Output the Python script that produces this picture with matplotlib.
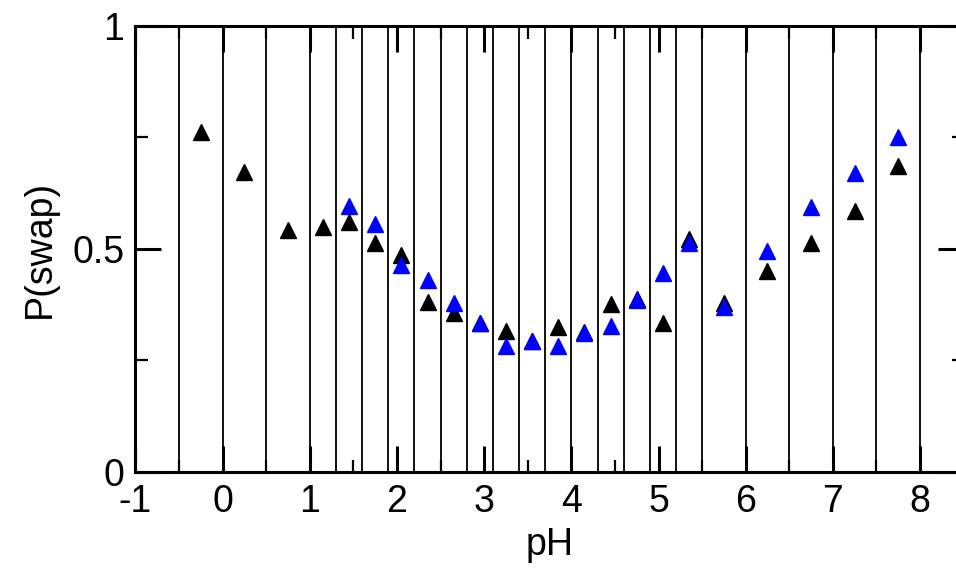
#!/usr/bin/env python3
from __future__ import annotations

import matplotlib

matplotlib.use("Agg")
import matplotlib.pyplot as plt
from matplotlib.ticker import FixedLocator

# pH window boundaries (vertical lines)
window_edges = [-0.5, 0.0, 0.5, 1.0, 1.3, 1.6, 1.9, 2.2, 2.5, 2.8, 3.1, 3.4,
                3.7, 4.0, 4.3, 4.6, 4.9, 5.2, 5.5, 6.0, 6.5, 7.0, 7.5, 8.0]

# black series
ph_black = [-0.25, 0.25, 0.75, 1.15, 1.45, 1.75, 2.05, 2.35, 2.65, 2.95, 3.25,
            3.55, 3.85, 4.15, 4.45, 4.75, 5.05, 5.35, 5.75, 6.25, 6.75, 7.25, 7.75]
pswap_black = [0.763, 0.673, 0.542, 0.548, 0.561, 0.514, 0.486, 0.381, 0.355, 0.333,
               0.315, 0.294, 0.325, 0.313, 0.376, 0.388, 0.333, 0.521, 0.378, 0.449,
               0.514, 0.585, 0.686]

# blue series
ph_blue = [1.45, 1.75, 2.05, 2.35, 2.65, 2.95, 3.25, 3.55, 3.85, 4.15, 4.45,
           4.75, 5.05, 5.35, 5.75, 6.25, 6.75, 7.25, 7.75]
pswap_blue = [0.596, 0.556, 0.464, 0.431, 0.379, 0.334, 0.282, 0.294, 0.282, 0.312,
              0.327, 0.385, 0.446, 0.512, 0.369, 0.496, 0.593, 0.669, 0.750]

x_major = [-1, 0, 1, 2, 3, 4, 5, 6, 7, 8]
x_minor = [-0.5, 0.5, 1.5, 2.5, 3.5, 4.5, 5.5, 6.5, 7.5]
y_major = [0, 0.5, 1]
y_minor = [0.25, 0.75]
y_labels = ["0", "0.5", "1"]


def setup_style() -> None:
    plt.rcParams.update(
        {
            "font.family": ["Liberation Sans", "DejaVu Sans"],
            "font.size": 27,
            "axes.unicode_minus": False,
            "axes.linewidth": 2.2,
        }
    )


def plot() -> plt.Figure:
    setup_style()
    fig = plt.figure(figsize=(9.56, 5.69), dpi=100)
    ax = fig.add_axes([0.1417, 0.1713, 0.8663, 0.783])

    for edge in window_edges:
        ax.axvline(edge, color="black", linewidth=1.3, zorder=1)

    ax.plot(ph_black, pswap_black, linestyle="none", marker="^", markersize=11.5,
            color="black", zorder=3)
    ax.plot(ph_blue, pswap_blue, linestyle="none", marker="^", markersize=11.5,
            color="#0000ff", zorder=4)

    ax.set_xlim(-1, 8.5)
    ax.set_ylim(0, 1)
    ax.xaxis.set_major_locator(FixedLocator(x_major))
    ax.xaxis.set_minor_locator(FixedLocator(x_minor))
    ax.set_xticklabels([str(v) for v in x_major])
    ax.yaxis.set_major_locator(FixedLocator(y_major))
    ax.yaxis.set_minor_locator(FixedLocator(y_minor))
    ax.set_yticklabels(y_labels)

    ax.tick_params(which="both", direction="in", top=True, right=True)
    ax.tick_params(which="major", length=19, width=2.2)
    ax.tick_params(which="minor", length=9, width=1.6)
    ax.tick_params(axis="x", which="major", pad=9)
    ax.tick_params(axis="y", which="major", pad=8)

    ax.set_xlabel("pH", labelpad=5)
    ax.set_ylabel("P(swap)", labelpad=10)
    return fig


def main() -> int:
    fig = plot()
    fig.savefig("out.png", dpi=100)
    plt.close(fig)
    return 0


if __name__ == "__main__":
    raise SystemExit(main())
